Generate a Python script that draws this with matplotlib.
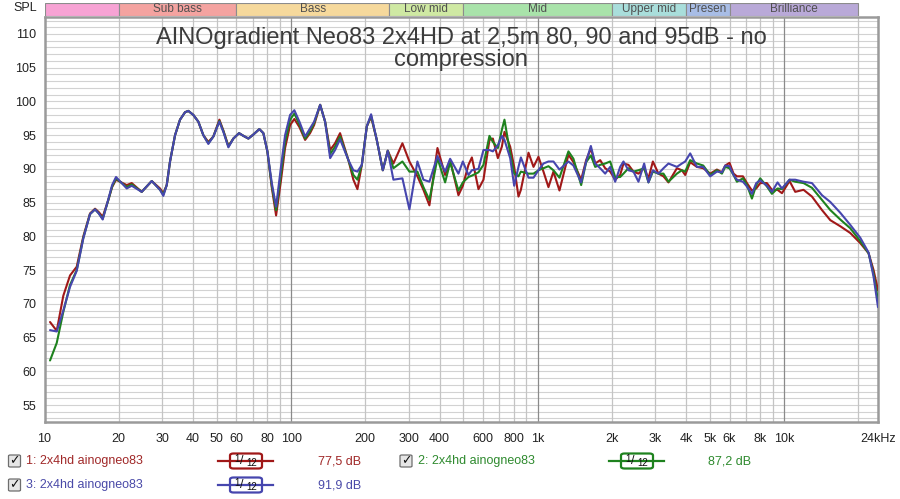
import matplotlib
matplotlib.use('Agg')
import matplotlib.pyplot as plt
from matplotlib.patches import Rectangle, FancyBboxPatch
from matplotlib.lines import Line2D

# ---------------- data ----------------
freq_hz = [10.53, 11.21, 11.92, 12.69, 13.51, 14.37, 15.30, 16.03, 16.6, 17.22,
           18.15, 18.8, 19.50, 21.55, 22.58, 24.79, 27.22, 29.41, 30.33, 31.31,
           32.29, 33.84, 35.45, 37.15, 38.31, 40.14, 42.06, 44.07, 46.18, 48.39,
           51.19, 53.13, 55.69, 58.34, 61.52, 64.07, 67.13, 70.32, 74.36, 77.19,
           80.15, 83.53, 86.94, 90.84, 94.55, 99.07, 103.1, 108.1, 114.0, 119.4,
           124.0, 131.2, 137.4, 144.0, 150.8, 158.0, 170.8, 178.9, 185.8, 193.6,
           202.8, 211.1, 222.6, 235.5, 246.7, 260.0, 282.8, 301.9, 325.3, 344.1,
           363.9, 392.3, 421.4, 441.6, 477.2, 497.2, 524.0, 541.0, 575.3, 602.8,
           637.5, 658.1, 689.6, 715.9, 733.5, 773.6, 803.1, 836.0, 855.0, 917.9,
           961.8, 1007.5, 1055.6, 1106, 1158.8, 1225.6, 1333, 1396.7, 1501, 1572.8,
           1643.4, 1711, 1792.7, 1878.4, 1968.1, 2062.1, 2160.6, 2228.2, 2334.8, 2446.3,
           2563.1, 2703.2, 2814, 2932.1, 3089.6, 3237.3, 3392.1, 3669.9, 3845.3, 3965.7,
           4155.3, 4424, 4693, 5010, 5333, 5588, 5763, 5999, 6228, 6428,
           6799, 7058, 7395, 7699, 7990, 8506, 8913, 9393, 9788, 10508,
           11081, 11974, 12953, 14224, 15374, 16874, 18525, 20336, 21979, 23030,
           24000]

spl_80db = [67.3, 66.0, 71.2, 74.2, 75.5, 80.0, 83.4, 84.1, 83.6, 82.9,
            85.4, 87.3, 88.4, 87.6, 87.9, 86.6, 88.2, 87.1, 86.4, 87.6,
            91.1, 95.0, 97.3, 98.4, 98.6, 98.0, 97.0, 95.0, 94.0, 94.8,
            97.3, 95.7, 93.4, 94.5, 95.3, 94.9, 94.5, 95.1, 95.9, 95.3,
            92.6, 87.2, 83.1, 88.1, 93.1, 96.5, 97.4, 96.2, 94.3, 95.3,
            96.5, 99.5, 97.0, 92.8, 93.8, 95.3, 91.3, 88.4, 87.0, 90.6,
            96.3, 97.7, 94.3, 89.8, 92.7, 90.8, 93.8, 91.1, 88.9, 86.9,
            84.6, 93.1, 89.1, 91.3, 86.1, 87.5, 90.6, 91.7, 87.0, 88.4,
            94.3, 94.5, 91.6, 93.3, 95.5, 93.3, 90.3, 85.9, 86.9, 92.4,
            90.3, 91.8, 89.6, 87.3, 89.6, 86.8, 92.1, 91.0, 88.4, 91.3,
            93.0, 90.8, 91.3, 90.1, 89.6, 88.4, 89.1, 90.8, 90.6, 89.6,
            89.3, 90.1, 88.6, 91.1, 89.3, 88.9, 88.0, 90.1, 89.8, 89.1,
            91.0, 90.3, 90.1, 89.3, 89.9, 89.5, 90.5, 90.9, 89.3, 88.9,
            88.9, 87.9, 86.8, 87.1, 87.9, 87.9, 86.9, 86.9, 86.4, 88.2,
            86.6, 86.9, 85.9, 83.9, 82.4, 81.5, 80.5, 79.0, 77.5, 75.0,
            72.0]

spl_90db = [61.6, 64.2, 68.8, 72.8, 75.0, 79.8, 83.3, 84.0, 83.4, 82.6,
            85.4, 87.4, 88.6, 87.3, 87.7, 86.6, 88.2, 86.9, 86.2, 87.6,
            91.1, 95.0, 97.3, 98.4, 98.6, 98.0, 97.0, 95.0, 93.8, 94.8,
            97.1, 95.6, 93.3, 94.5, 95.3, 94.9, 94.5, 95.1, 95.9, 95.3,
            92.6, 87.5, 83.9, 89.1, 94.0, 97.3, 98.2, 96.6, 94.5, 95.6,
            96.8, 99.5, 97.0, 92.2, 93.3, 94.8, 91.3, 89.1, 88.4, 90.6,
            96.3, 97.9, 94.3, 89.8, 92.7, 90.1, 91.1, 89.6, 89.6, 87.3,
            85.4, 91.6, 88.0, 91.0, 86.8, 88.0, 88.8, 89.0, 89.5, 90.6,
            94.9, 94.0, 93.1, 95.8, 97.3, 92.3, 89.3, 88.9, 89.6, 89.3,
            89.3, 89.8, 90.1, 90.4, 89.8, 88.7, 92.6, 91.5, 87.6, 91.0,
            92.0, 90.3, 90.6, 90.8, 91.1, 88.8, 88.8, 89.3, 90.1, 89.6,
            89.8, 90.1, 88.0, 89.6, 89.3, 89.3, 88.1, 89.3, 89.8, 89.6,
            91.3, 90.8, 90.5, 89.1, 89.8, 89.3, 90.3, 90.1, 89.1, 88.1,
            88.6, 87.6, 85.6, 87.6, 88.6, 87.4, 86.3, 87.1, 87.0, 88.4,
            88.1, 87.9, 87.2, 85.4, 83.9, 82.5, 81.2, 79.3, 77.5, 74.4,
            70.5]

spl_95db = [66.1, 65.9, 69.0, 72.5, 74.9, 79.7, 83.3, 84.0, 83.4, 82.5,
            85.5, 87.6, 88.8, 87.1, 87.5, 86.6, 88.2, 86.9, 86.0, 87.6,
            91.1, 95.0, 97.3, 98.4, 98.6, 98.0, 97.0, 95.0, 93.7, 94.8,
            97.0, 95.5, 93.2, 94.5, 95.3, 94.9, 94.5, 95.1, 95.9, 95.3,
            92.6, 87.9, 84.4, 90.1, 95.0, 98.0, 98.7, 97.0, 94.8, 96.0,
            97.0, 99.5, 97.0, 91.6, 92.8, 94.4, 91.3, 89.8, 89.6, 90.6,
            96.3, 98.1, 94.3, 89.8, 92.7, 88.4, 88.6, 84.0, 91.1, 88.4,
            88.1, 91.9, 89.6, 91.5, 89.3, 91.1, 89.1, 89.8, 90.0, 92.8,
            92.8, 92.6, 93.5, 94.9, 94.3, 91.6, 87.5, 90.3, 91.7, 88.7,
            88.7, 89.8, 90.8, 91.1, 91.1, 89.9, 91.1, 90.5, 88.0, 91.1,
            93.4, 90.8, 90.1, 89.3, 90.3, 88.1, 90.3, 91.1, 89.8, 89.6,
            88.1, 90.8, 88.0, 89.8, 89.3, 90.1, 90.8, 90.3, 90.8, 91.1,
            92.3, 90.3, 90.3, 88.9, 89.6, 89.5, 90.5, 90.4, 89.1, 88.4,
            88.1, 87.4, 86.3, 87.9, 88.3, 87.5, 86.6, 88.0, 87.1, 88.4,
            88.4, 88.1, 87.9, 86.1, 85.1, 83.5, 81.7, 79.8, 77.6, 74.0,
            69.5]

series_names = ["1: 2x4hd ainogneo83", "2: 2x4hd ainogneo83", "3: 2x4hd ainogneo83"]
series_levels = ["77,5 dB", "87,2 dB", "91,9 dB"]

band_names = ["", "Sub bass", "Bass", "Low mid", "Mid", "Upper mid", "Presen", "Brilliance"]
band_edges = [10, 20, 60, 250, 500, 2000, 4000, 6000, 20000]

x_ticks = [10, 20, 30, 40, 50, 60, 80, 100, 200, 300, 400, 600, 800,
           1000, 2000, 3000, 4000, 5000, 6000, 8000, 10000, 24000]
x_tick_labels = ["10", "20", "30", "40", "50", "60", "80", "100", "200", "300",
                 "400", "600", "800", "1k", "2k", "3k", "4k", "5k", "6k", "8k",
                 "10k", "24kHz"]
y_ticks = [55, 60, 65, 70, 75, 80, 85, 90, 95, 100, 105, 110]

title_lines = ["AINOgradient Neo83 2x4HD at 2,5m 80, 90 and 95dB - no", "compression"]

# ---------------- styling ----------------
W, H = 900, 499
FONT = ["Liberation Sans", "DejaVu Sans"]
plt.rcParams['font.family'] = FONT

line_colors = ["#A01818", "#1E821E", "#4646AE"]
text_colors = ["#A02828", "#2E8A2E", "#4A4AA8"]
band_colors = ["#F7A3D4", "#F4A3A0", "#F6D99C", "#CFE9A3", "#A9E3AA",
               "#A9DEDB", "#A8BDE6", "#B9A9D8"]


def fx(x):
    return x / W


def fy(y):
    return 1 - y / H


fig = plt.figure(figsize=(W / 100, H / 100), dpi=100)
fig.patch.set_facecolor("white")

# main axes
ax_l, ax_r, ax_t, ax_b = 44.5, 878, 17, 422
ax = fig.add_axes([fx(ax_l), fy(ax_b), (ax_r - ax_l) / W, (ax_b - ax_t) / H])
ax.set_xscale('log')
ax.set_xlim(10, 24000)
ax.set_ylim(52.48, 112.52)
ax.set_facecolor("white")

# grid
for d in range(53, 113):
    ax.axhline(d, color="#D2D2D2", lw=0.8, zorder=1)
for dec in [10, 100, 1000, 10000]:
    for m in range(1, 10):
        f = dec * m
        if f <= 10 or f > 24000:
            continue
        col = "#8A8A8A" if m == 1 else "#C4C4C4"
        ax.axvline(f, color=col, lw=0.9, zorder=1.5)

for vals, col in zip([spl_80db, spl_90db, spl_95db], line_colors):
    ax.plot(freq_hz, vals, color=col, lw=1.5, zorder=3,
            solid_joinstyle='round', solid_capstyle='round')

ax.set_xticks(x_ticks)
ax.set_xticklabels(x_tick_labels)
ax.xaxis.set_minor_locator(matplotlib.ticker.NullLocator())
ax.set_yticks(y_ticks)
ax.set_yticklabels([str(v) for v in y_ticks])
ax.tick_params(axis='both', length=0, labelsize=9, colors="#222222")
ax.tick_params(axis='x', pad=8)
ax.tick_params(axis='y', pad=6)
for s in ax.spines.values():
    s.set_color("#9A9A9A")
    s.set_linewidth(1.8)

# title
fig.text(fx(461), fy(38), title_lines[0], ha='center', va='center',
         fontsize=17, color="#3C3C3C")
fig.text(fx(461), fy(60), title_lines[1], ha='center', va='center',
         fontsize=17, color="#3C3C3C")

fig.text(fx(37), fy(8), "SPL", ha='right', va='center', fontsize=9, color="#222222")

# frequency band strip
bax = fig.add_axes([fx(ax_l), fy(15.5), (ax_r - ax_l) / W, 13 / H])
bax.set_xscale('log')
bax.set_xlim(10, 24000)
bax.set_ylim(0, 1)
bax.axis('off')
for i, name in enumerate(band_names):
    lo, hi = band_edges[i], band_edges[i + 1]
    bax.add_patch(Rectangle((lo, 0), hi - lo, 1, facecolor=band_colors[i],
                            edgecolor="#8C8C8C", lw=0.8))
    if name:
        bax.text((lo * hi) ** 0.5, 0.5, name, ha='center', va='center',
                 fontsize=8.5, color="#505050")

# legend rows
rows = [(461, 26.5, 218, text_colors[0], line_colors[0], 318, 0),
        (461, 418, 609, text_colors[1], line_colors[1], 708, 1),
        (485, 26.5, 218, text_colors[2], line_colors[2], 318, 2)]
for (yc, tx, lx, tcol, lcol, vx, idx) in rows:
    # checkbox
    fig.patches.append(FancyBboxPatch((fx(tx - 18), fy(yc + 6)), 12 / W, 12 / H,
                                      boxstyle="round,pad=0,rounding_size=0.002",
                                      transform=fig.transFigure, facecolor="#E6E6E6",
                                      edgecolor="#6E6E6E", lw=0.9))
    fig.text(fx(tx - 12), fy(yc - 0.5), "\u2713", ha='center', va='center', fontsize=9,
             fontweight='bold', color="#111111", family=["DejaVu Sans"])
    fig.text(fx(tx), fy(yc), series_names[idx], ha='left', va='center',
             fontsize=9, color=tcol)
    # smoothing symbol
    fig.add_artist(Line2D([fx(lx), fx(lx + 55)], [fy(yc), fy(yc)], color=lcol, lw=1.6,
                          transform=fig.transFigure))
    fig.patches.append(FancyBboxPatch((fx(lx + 12), fy(yc + 7.5)), 32 / W, 15 / H,
                                      boxstyle="round,pad=0,rounding_size=0.004",
                                      transform=fig.transFigure, facecolor="white",
                                      edgecolor=lcol, lw=1.6))
    fig.text(fx(lx + 19), fy(yc - 2.5), "1", ha='center', va='center', fontsize=7,
             color="#111111")
    fig.text(fx(lx + 23.5), fy(yc), "/", ha='center', va='center', fontsize=9,
             color="#111111")
    fig.text(fx(lx + 34), fy(yc + 2.5), "12", ha='center', va='center', fontsize=7,
             color="#111111")
    fig.text(fx(vx), fy(yc), series_levels[idx], ha='left', va='center',
             fontsize=9, color=tcol)

fig.savefig("out.png", dpi=100, facecolor="white")
